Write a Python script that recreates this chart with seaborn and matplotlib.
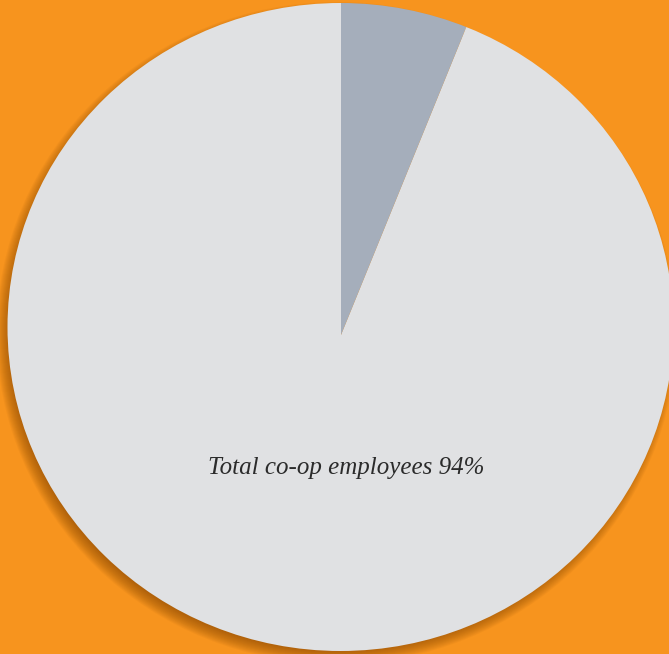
import matplotlib
matplotlib.use("Agg")
import matplotlib.pyplot as plt
import seaborn as sns
from matplotlib.patches import Ellipse

sns.set_theme(style="white")
plt.rcParams['font.family'] = ['Liberation Serif', 'DejaVu Serif']

labels = ["Other", "Total co-op employees"]
values = [6, 94]
colors = ["#A5AEBB", "#E0E1E3"]
bg = "#F7941E"

W, H = 669, 654
fig = plt.figure(figsize=(W / 100, H / 100), dpi=100)
fig.patch.set_facecolor(bg)
ax = fig.add_axes([0, 0, 1, 1])
ax.set_facecolor(bg)

# pixel layout: outline ellipse and wedge apex
cx, cy = 340.5, 327.0
rx, ry = 333.0, 324.0
apx, apy = 341.0, 335.0
ax.set_xlim(-cx / rx, (W - cx) / rx)
ax.set_ylim(-(H - cy) / ry, cy / ry)

def px(x, y):
    return (x - cx) / rx, (cy - y) / ry

# soft shadow, offset down/left
for i in range(14):
    sx, sy = px(cx - 4, cy + 6)
    g = 7 - i
    ax.add_patch(Ellipse((sx, sy), 2 * (1 + g / rx), 2 * (1 + g / ry),
                         color="#7a3e00", alpha=0.05, lw=0, zorder=0))

outline = Ellipse((0, 0), 2, 2, transform=ax.transData, facecolor="none", lw=0)
ax.add_patch(outline)

wedges, _ = ax.pie(values, colors=colors, startangle=90, counterclock=False,
                   radius=2.5, center=px(apx, apy),
                   wedgeprops=dict(linewidth=0), frame=True)
for w in wedges:
    w.set_clip_on(True)
    w.set_clip_path(outline)

tx, ty = px(346.5, 468)
ax.text(tx, ty, f"{labels[1]} {values[1]}%", ha="center", va="center",
        fontsize=18, style="italic", color="#2b2b2b")

ax.set_xlim(-cx / rx, (W - cx) / rx)
ax.set_ylim(-(H - cy) / ry, cy / ry)
ax.set_aspect("auto")
ax.axis("off")
fig.savefig("out.png", dpi=100, facecolor=bg)
